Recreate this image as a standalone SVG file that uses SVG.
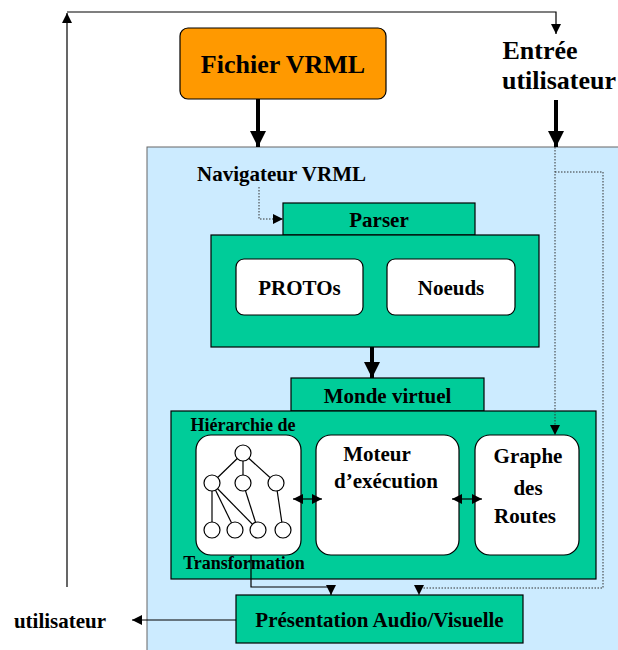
<svg xmlns="http://www.w3.org/2000/svg" width="618" height="650" viewBox="0 0 618 650">
  <style>
    .t { font-family: "Liberation Serif", "Times New Roman", serif; font-weight: bold; fill: #000; }
    .big { font-size: 26px; }
    .mid { font-size: 21px; }
    .small { font-size: 18px; }
    .green { fill: #00CC99; stroke: #000; stroke-width: 1.2; }
    .white { fill: #fff; stroke: #000; stroke-width: 1.2; }
    .thin { fill: none; stroke: #000; stroke-width: 1.2; }
    .thick { fill: none; stroke: #000; stroke-width: 4; }
    .dot { fill: none; stroke: #333; stroke-width: 1; stroke-dasharray: 1.5 1.5; }
    .tree line { stroke: #000; stroke-width: 1.2; }
    .tree circle { fill: #fff; stroke: #000; stroke-width: 1.2; }
  </style>
  <defs>
    <marker id="ah" viewBox="0 0 10 10" refX="10" refY="5" markerWidth="10" markerHeight="10" markerUnits="userSpaceOnUse" orient="auto">
      <path d="M0,0 L10,5 L0,10 z" fill="#000"/>
    </marker>
    <marker id="ahs" viewBox="0 0 10 10" refX="10" refY="5" markerWidth="10" markerHeight="10" markerUnits="userSpaceOnUse" orient="auto-start-reverse">
      <path d="M0,0 L10,5 L0,10 z" fill="#000"/>
    </marker>
    <marker id="ahb" viewBox="0 0 10 10" refX="10" refY="5" markerWidth="16" markerHeight="16" markerUnits="userSpaceOnUse" orient="auto">
      <path d="M0,0 L10,5 L0,10 z" fill="#000"/>
    </marker>
  </defs>

  <rect width="618" height="650" fill="#fff"/>

  <!-- browser area -->
  <g id="navigateur">
    <rect x="147" y="147" width="480" height="510" fill="#CCEBFF" stroke="#666" stroke-width="1"/>
    <text class="t mid" x="197" y="181">Navigateur VRML</text>
  </g>

  <g id="fichier">
    <rect x="180" y="28" width="206" height="71" rx="8" fill="#FF9900" stroke="#000" stroke-width="1.2"/>
    <text class="t big" x="283" y="73" text-anchor="middle">Fichier VRML</text>
  </g>

  <g id="entree">
    <text class="t big" x="540" y="59" text-anchor="middle">Entrée</text>
    <text class="t big" x="559" y="89" text-anchor="middle">utilisateur</text>
  </g>

  <g id="parser">
    <rect class="green" x="283" y="203" width="192" height="32"/>
    <text class="t mid" x="379" y="227" text-anchor="middle">Parser</text>
    <rect class="green" x="211" y="235" width="328" height="112"/>
  </g>
  <g id="protos">
    <rect class="white" x="236" y="259" width="127" height="56" rx="8"/>
    <text class="t mid" x="299.5" y="295" text-anchor="middle">PROTOs</text>
  </g>
  <g id="noeuds">
    <rect class="white" x="387" y="259" width="128" height="56" rx="8"/>
    <text class="t mid" x="451" y="295" text-anchor="middle">Noeuds</text>
  </g>

  <g id="monde">
    <rect class="green" x="291" y="378" width="193" height="33"/>
    <text class="t mid" x="387.5" y="403" text-anchor="middle">Monde virtuel</text>
    <rect class="green" x="171" y="411" width="425" height="168"/>
  </g>

  <g id="hierarchie">
    <text class="t small" x="243" y="431" text-anchor="middle">Hiérarchie de</text>
    <rect class="white" x="196" y="435" width="105" height="120" rx="15"/>
    <text class="t small" x="244" y="569" text-anchor="middle">Transformation</text>
    <g class="tree">
      <line x1="243" y1="453" x2="212" y2="483"/>
      <line x1="243" y1="453" x2="243" y2="483"/>
      <line x1="243" y1="453" x2="276" y2="483"/>
      <line x1="212" y1="483" x2="212" y2="530"/>
      <line x1="212" y1="483" x2="235" y2="530"/>
      <line x1="212" y1="483" x2="258" y2="530"/>
      <line x1="243" y1="483" x2="258" y2="530"/>
      <line x1="276" y1="483" x2="283" y2="530"/>
      <circle cx="243" cy="453" r="8"/>
      <circle cx="212" cy="483" r="8"/>
      <circle cx="243" cy="483" r="8"/>
      <circle cx="276" cy="483" r="8"/>
      <circle cx="212" cy="530" r="8"/>
      <circle cx="235" cy="530" r="8"/>
      <circle cx="258" cy="530" r="8"/>
      <circle cx="283" cy="530" r="8"/>
    </g>
  </g>

  <g id="moteur">
    <rect class="white" x="316" y="435" width="143" height="120" rx="15"/>
    <text class="t mid" x="377" y="461" text-anchor="middle">Moteur</text>
    <text class="t mid" x="386" y="488" text-anchor="middle">d’exécution</text>
  </g>

  <g id="graphe">
    <rect class="white" x="475" y="435" width="104" height="120" rx="15"/>
    <text class="t mid" x="528" y="463" text-anchor="middle">Graphe</text>
    <text class="t mid" x="528" y="495" text-anchor="middle">des</text>
    <text class="t mid" x="525" y="523" text-anchor="middle">Routes</text>
  </g>

  <g id="presentation">
    <rect class="green" x="236" y="595" width="287" height="48"/>
    <text class="t mid" x="379.5" y="627" text-anchor="middle">Présentation Audio/Visuelle</text>
  </g>

  <g id="sortie">
    <text class="t mid" x="60" y="628" text-anchor="middle">utilisateur</text>
  </g>

  <!-- connectors -->
  <g id="connecteurs">
    <!-- feedback loop from the user back to the input -->
    <polyline class="thin" points="67,587 67,13" marker-end="url(#ah)"/>
    <polyline class="thin" points="67,12 556,12 556,34" marker-end="url(#ah)"/>
    <!-- main data flow -->
    <line class="thick" x1="258" y1="99" x2="258" y2="147" marker-end="url(#ahb)"/>
    <line class="thick" x1="556" y1="100" x2="556" y2="147" marker-end="url(#ahb)"/>
    <line class="thick" x1="372" y1="347" x2="372" y2="378" marker-end="url(#ahb)"/>
    <!-- navigator to parser -->
    <polyline class="dot" points="259,187 259,219 283,219" marker-end="url(#ah)"/>
    <!-- user input routed through the browser -->
    <polyline class="dot" points="555,147 555,435" marker-end="url(#ah)"/>
    <polyline class="dot" points="555,172 603,172 603,588 419,588 419,595" marker-end="url(#ah)"/>
    <!-- exchanges inside the virtual world -->
    <line class="thin" x1="293" y1="499" x2="322" y2="499" marker-start="url(#ahs)" marker-end="url(#ah)"/>
    <line class="thin" x1="452" y1="499" x2="482" y2="499" marker-start="url(#ahs)" marker-end="url(#ah)"/>
    <!-- hierarchy to presentation -->
    <polyline class="thin" points="251,555 251,587 331,587 331,595" marker-end="url(#ah)"/>
    <!-- presentation to user -->
    <line class="thin" x1="236" y1="620" x2="132" y2="620" marker-end="url(#ah)"/>
  </g>
</svg>
